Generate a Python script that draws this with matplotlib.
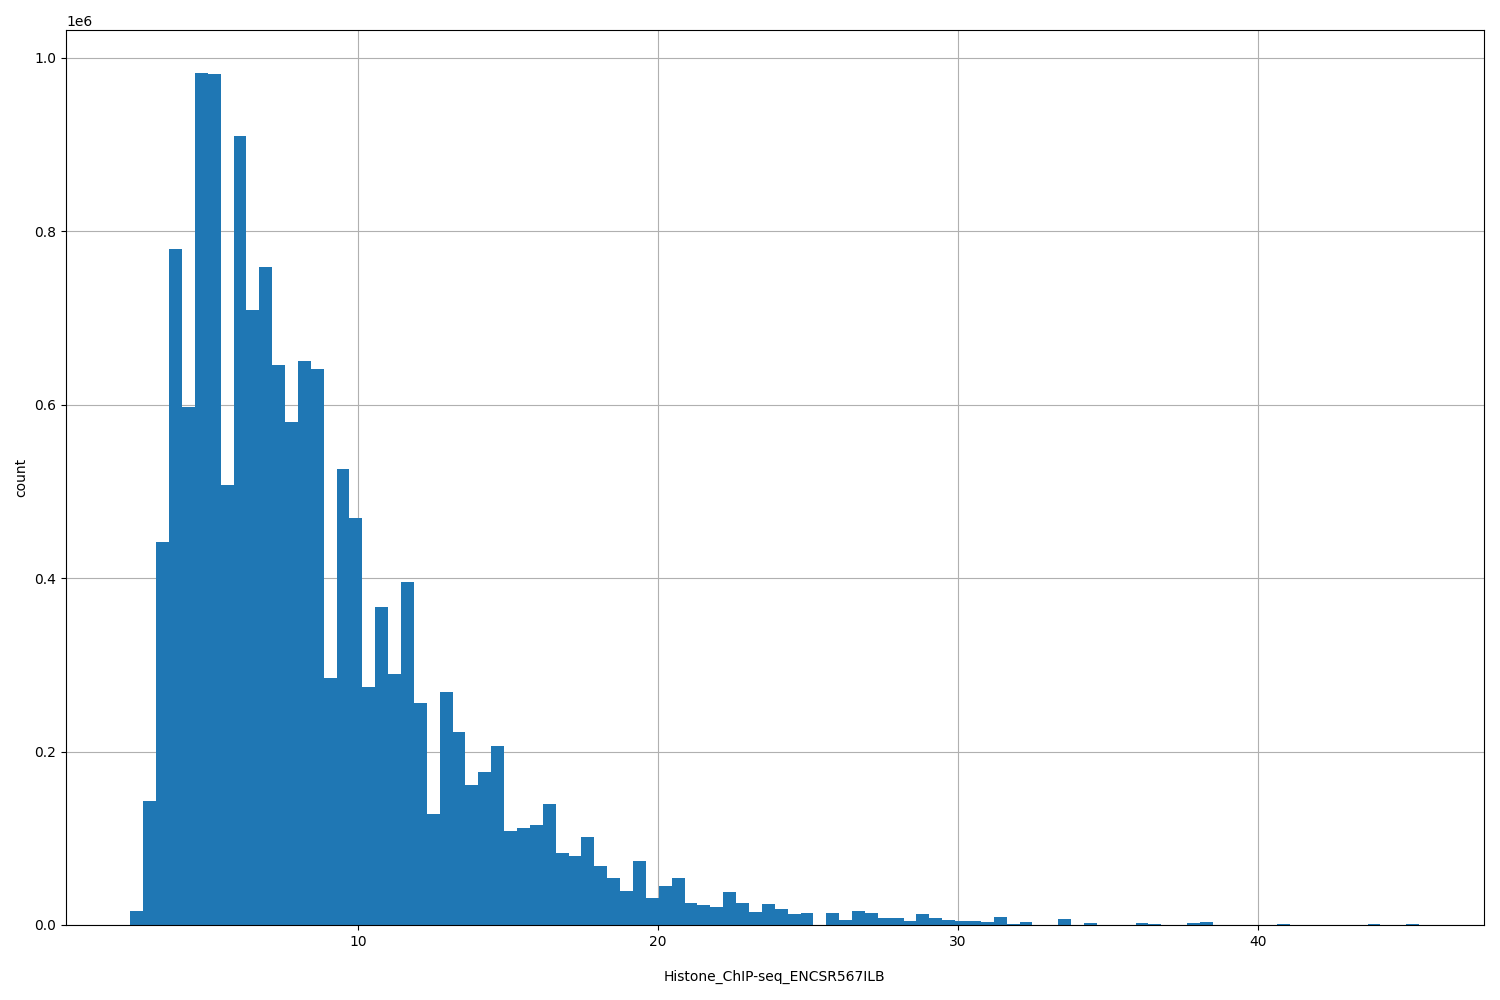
import matplotlib
matplotlib.use("Agg")
import matplotlib.pyplot as plt
import numpy as np

x_min = 2.42
x_max = 45.36
counts_millions = [
    0.016, 0.143, 0.442, 0.780, 0.597, 0.983, 0.981, 0.508, 0.910, 0.709,
    0.759, 0.646, 0.580, 0.650, 0.641, 0.285, 0.526, 0.469, 0.275, 0.367,
    0.289, 0.395, 0.256, 0.128, 0.269, 0.222, 0.162, 0.176, 0.206, 0.108,
    0.112, 0.115, 0.140, 0.083, 0.079, 0.101, 0.068, 0.054, 0.039, 0.074,
    0.031, 0.045, 0.054, 0.025, 0.023, 0.021, 0.038, 0.025, 0.015, 0.024,
    0.019, 0.013, 0.014, 0.0, 0.014, 0.006, 0.016, 0.014, 0.008, 0.008,
    0.005, 0.013, 0.008, 0.006, 0.005, 0.005, 0.003, 0.009, 0.001, 0.003,
    0.0, 0.0, 0.007, 0.0, 0.002, 0.0, 0.0, 0.0, 0.002, 0.001,
    0.0, 0.0, 0.002, 0.003, 0.0, 0.0, 0.0, 0.0, 0.0, 0.001,
    0.0, 0.0, 0.0, 0.0, 0.0, 0.0, 0.001, 0.0, 0.0, 0.001,
]
xlabel = "Histone_ChIP-seq_ENCSR567ILB"
ylabel = "count"

counts = np.array(counts_millions) * 1e6
edges = np.linspace(x_min, x_max, len(counts) + 1)

fig = plt.figure(figsize=(15, 10), dpi=100)
ax = fig.add_axes([0.044, 0.075, 0.945, 0.895])
ax.hist(edges[:-1], bins=edges, weights=counts, color="#1f77b4")
ax.grid(True)
ax.set_axisbelow(True)
ax.set_xlabel(xlabel, labelpad=15)
ax.set_ylabel(ylabel)
fig.savefig("out.png")
